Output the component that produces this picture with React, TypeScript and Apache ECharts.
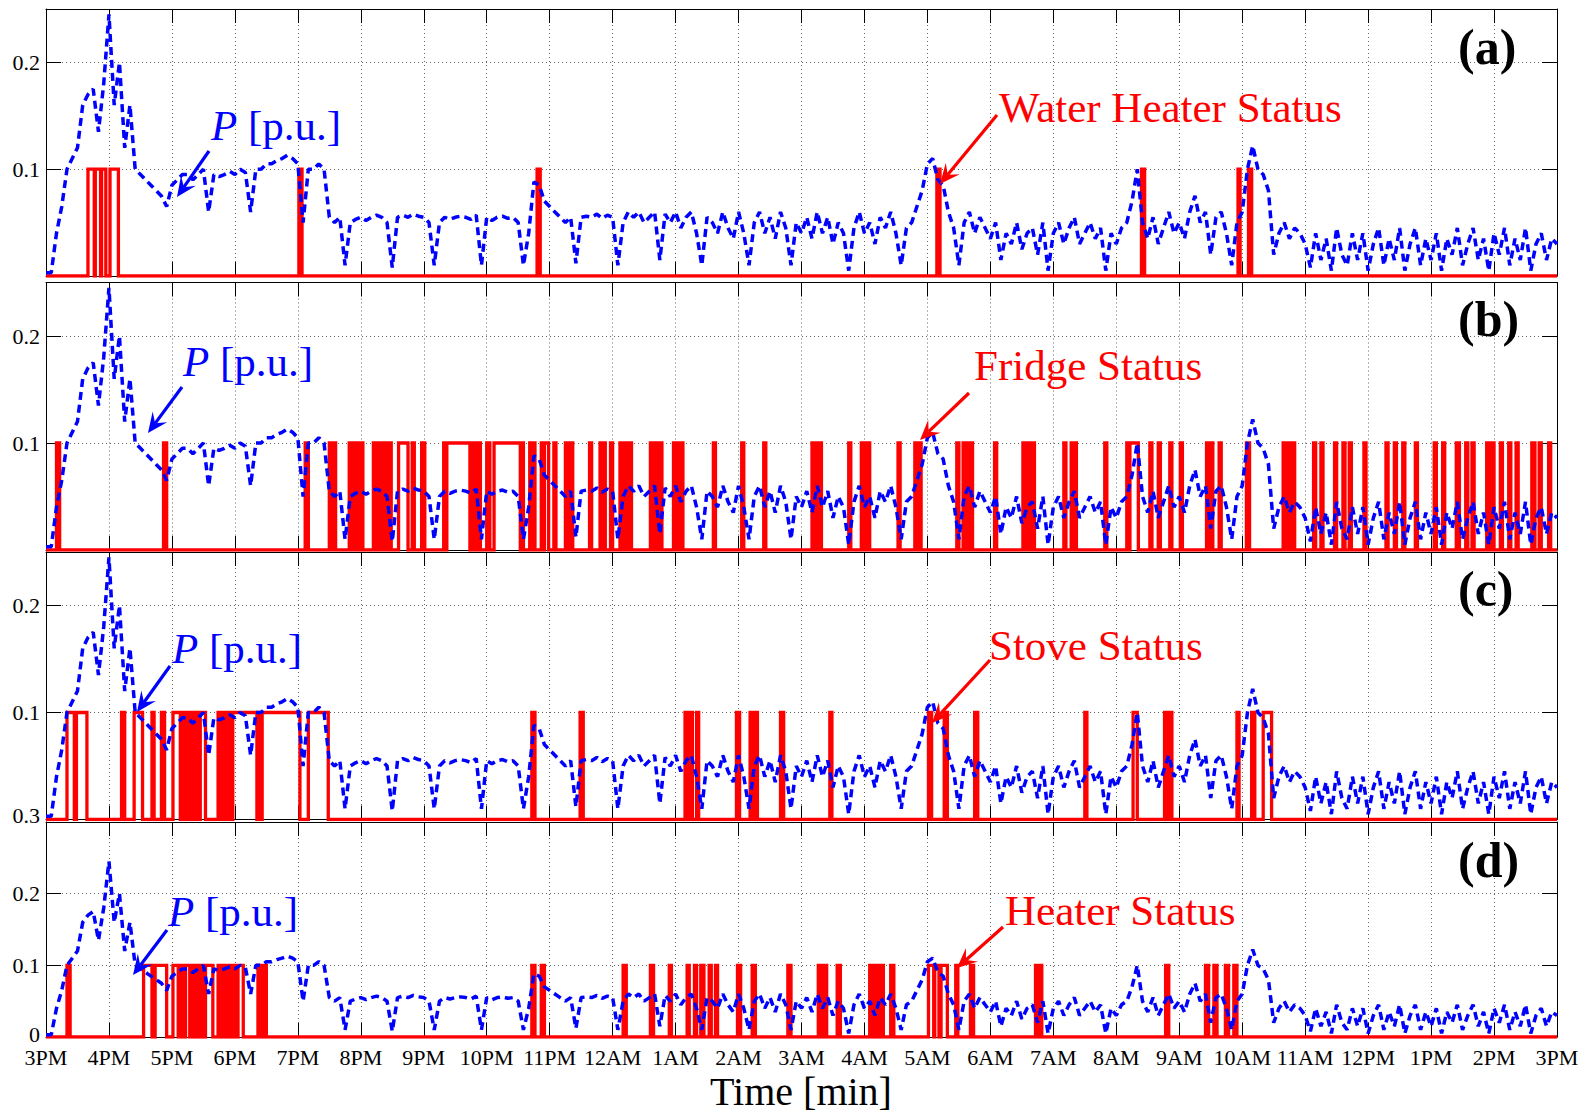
import React, { useEffect, useRef } from 'react';
import * as echarts from 'echarts';

// ---------------- data ----------------
const X_LABELS = ['3PM','4PM','5PM','6PM','7PM','8PM','9PM','10PM','11PM','12AM','1AM','2AM','3AM','4AM','5AM','6AM','7AM','8AM','9AM','10AM','11AM','12PM','1PM','2PM','3PM'];
const STEP_MIN = 5; // P sampled every 5 minutes, starting at 3PM (minute 0)
const P_VALUES = [
  0.003, 0.003, 0.04, 0.065, 0.1, 0.11, 0.12, 0.16, 0.17, 0.175, 0.135, 0.18,
  0.245, 0.16, 0.2, 0.12, 0.16, 0.1, 0.095, 0.09, 0.085, 0.08, 0.075, 0.065,
  0.085, 0.09, 0.095, 0.095, 0.09, 0.095, 0.1, 0.06, 0.095, 0.093, 0.095, 0.098,
  0.095, 0.1, 0.097, 0.06, 0.1, 0.1, 0.105, 0.105, 0.108, 0.11, 0.113, 0.11,
  0.105, 0.05, 0.1, 0.1, 0.105, 0.1, 0.055, 0.05, 0.055, 0.01, 0.05, 0.053,
  0.055, 0.052, 0.055, 0.057, 0.055, 0.05, 0.008, 0.055, 0.057, 0.055, 0.058, 0.056,
  0.055, 0.05, 0.01, 0.05, 0.055, 0.053, 0.055, 0.056, 0.055, 0.053, 0.057, 0.01,
  0.055, 0.052, 0.055, 0.056, 0.054, 0.055, 0.05, 0.01, 0.04, 0.088, 0.085, 0.07,
  0.065, 0.06, 0.055, 0.05, 0.055, 0.012, 0.055, 0.056, 0.055, 0.058, 0.054, 0.057,
  0.055, 0.01, 0.05, 0.06, 0.055, 0.06, 0.05, 0.055, 0.06, 0.015, 0.058, 0.05,
  0.06, 0.045, 0.055, 0.06, 0.04, 0.01, 0.055, 0.05, 0.04, 0.06, 0.045, 0.035,
  0.06, 0.04, 0.01, 0.05, 0.06, 0.04, 0.055, 0.035, 0.06, 0.045, 0.01, 0.05,
  0.04, 0.055, 0.035, 0.06, 0.04, 0.055, 0.03, 0.05, 0.04, 0.005, 0.045, 0.06,
  0.04, 0.05, 0.03, 0.055, 0.045, 0.06, 0.04, 0.01, 0.045, 0.05, 0.065, 0.08,
  0.105, 0.11, 0.09, 0.085, 0.06, 0.045, 0.01, 0.05, 0.06, 0.04, 0.055, 0.045,
  0.035, 0.05, 0.015, 0.04, 0.03, 0.05, 0.025, 0.04, 0.045, 0.02, 0.05, 0.005,
  0.04, 0.05, 0.03, 0.045, 0.055, 0.03, 0.04, 0.05, 0.035, 0.045, 0.005, 0.04,
  0.03, 0.045, 0.05, 0.07, 0.1, 0.05, 0.035, 0.055, 0.03, 0.045, 0.06, 0.04,
  0.05, 0.035, 0.06, 0.075, 0.05, 0.06, 0.02, 0.055, 0.06, 0.04, 0.01, 0.05,
  0.06, 0.1, 0.122, 0.1, 0.095, 0.08, 0.02, 0.04, 0.05, 0.035, 0.045, 0.04,
  0.03, 0.008, 0.04, 0.015, 0.035, 0.005, 0.045, 0.02, 0.01, 0.04, 0.015, 0.04,
  0.005, 0.03, 0.045, 0.01, 0.035, 0.015, 0.045, 0.005, 0.03, 0.045, 0.01, 0.035,
  0.015, 0.04, 0.005, 0.035, 0.02, 0.045, 0.01, 0.03, 0.045, 0.015, 0.035, 0.005,
  0.04, 0.02, 0.045, 0.01, 0.035, 0.015, 0.045, 0.005, 0.03, 0.04, 0.015, 0.035,
  0.03,
];
const STATUS_LEVEL = 0.1;
// on-intervals [start, end] in minutes after 3PM
const WATER_HEATER_ON = [[40,46],[47,52],[53,57],[61,69],[241,244],[468,471],[849,852],[1044,1047],[1136,1138],[1146,1149]];
const FRIDGE_ON = [[10,13],[112,115],[247,250],[270,272],[274,276],[289,291],[292,295],[296,298],[299,302],[312,315],[317,320],[321,324],[326,329],[336,345],[349,351],[358,361],[379,381],[382,404],[406,408],[411,414],[420,423],[427,452],[453,455],[461,463],[464,466],[472,474],[475,479],[484,486],[495,497],[499,502],[518,520],[528,530],[531,533],[538,540],[547,549],[552,554],[556,558],[576,578],[579,582],[584,587],[598,600],[602,604],[605,607],[636,638],[663,665],[684,686],[730,732],[733,736],[737,739],[765,767],[777,779],[780,782],[783,785],[812,814],[828,830],[832,834],[868,870],[874,876],[878,880],[881,883],[904,906],[931,933],[935,937],[940,942],[970,972],[977,979],[980,982],[1009,1011],[1030,1032],[1033,1041],[1052,1054],[1060,1062],[1071,1073],[1081,1083],[1106,1108],[1110,1112],[1118,1120],[1144,1147],[1179,1181],[1183,1185],[1188,1190],[1208,1210],[1215,1217],[1228,1230],[1236,1238],[1242,1244],[1256,1258],[1277,1279],[1285,1287],[1293,1295],[1305,1307],[1323,1325],[1331,1333],[1344,1347],[1353,1355],[1359,1361],[1373,1376],[1378,1380],[1386,1388],[1394,1396],[1401,1403],[1416,1419],[1423,1425],[1432,1434]];
const STOVE_ON = [[20,27],[29,39],[72,75],[84,92],[101,103],[110,113],[121,128],[130,133],[135,137],[139,141],[143,145],[147,152],[164,167],[169,172],[174,176],[178,201],[203,205],[206,242],[250,269],[463,466],[509,512],[609,611],[614,616],[620,622],[658,661],[671,673],[676,678],[700,703],[747,749],[841,844],[856,859],[885,888],[990,992],[1036,1040],[1066,1068],[1071,1073],[1135,1137],[1149,1152],[1160,1168]];
const HEATER_ON = [[20,23],[93,101],[104,115],[121,126],[128,131],[133,137],[139,142],[144,147],[148,150],[152,159],[164,167],[169,172],[174,177],[179,182],[183,188],[202,205],[207,210],[463,466],[472,475],[550,553],[576,579],[594,596],[611,613],[618,620],[624,627],[632,634],[638,640],[659,662],[673,676],[707,710],[736,739],[741,744],[754,757],[785,787],[789,791],[793,795],[796,798],[805,808],[841,846],[847,851],[853,859],[867,869],[881,884],[943,945],[947,949],[1067,1070],[1105,1108],[1113,1116],[1124,1127],[1132,1135]];
const STATUS_SERIES = [WATER_HEATER_ON, FRIDGE_ON, STOVE_ON, HEATER_ON];
const STATUS_NAMES = ['Water Heater Status', 'Fridge Status', 'Stove Status', 'Heater Status'];
const PANEL_LABELS = ['(a)', '(b)', '(c)', '(d)'];
const Y_MAX = [0.25, 0.25, 0.25, 0.3];
const Y_LABELS = [[0.1, 0.2], [0.1, 0.2], [0.1, 0.2], [0, 0.1, 0.2, 0.3]];
const X_MAX = 1440;

// ---------------- layout ----------------
const FONT = '"Liberation Serif", "Times New Roman", serif';
const LEFT = 46;
const PLOT_W = 1511;
const PANELS = [
  { top: 9, height: 267 },
  { top: 282.5, height: 267.5 },
  { top: 552, height: 267.5 },
  { top: 822, height: 215 },
];
const ANNOT = [
  { pX: 211, pY: 125, pArrow: [[209, 151], [177, 197]], sX: 999, sY: 107, sArrow: [[997, 115], [940, 184]], lY: 47 },
  { pX: 183, pY: 361, pArrow: [[182, 387], [148, 433]], sX: 974, sY: 365, sArrow: [[969, 393], [920, 440]], lY: 319 },
  { pX: 172, pY: 648, pArrow: [[170, 666], [137, 712]], sX: 989, sY: 645, sArrow: [[990, 660], [932, 723]], lY: 589 },
  { pX: 168, pY: 911, pArrow: [[167, 930], [133, 975]], sX: 1005, sY: 910, sArrow: [[1003, 927], [957, 968]], lY: 860 },
];

function stepData(intervals: number[][]) {
  const d: number[][] = [[0, 0]];
  for (const [a, b] of intervals) {
    d.push([a, 0], [a, STATUS_LEVEL], [b, STATUS_LEVEL], [b, 0]);
  }
  d.push([X_MAX, 0]);
  return d;
}

function arrow(S: number[], T: number[], color: string) {
  const dx = T[0] - S[0], dy = T[1] - S[1];
  const len = Math.hypot(dx, dy);
  const ux = dx / len, uy = dy / len;
  const nx = -uy, ny = ux;
  const L = 20, W = 9;
  const bx = T[0] - ux * L, by = T[1] - uy * L;
  const mx = T[0] - ux * L * 0.6, my = T[1] - uy * L * 0.6;
  return [
    { type: 'line', z: 100, shape: { x1: S[0], y1: S[1], x2: mx, y2: my }, style: { stroke: color, lineWidth: 3.2 } },
    { type: 'polygon', z: 100, shape: { points: [[T[0], T[1]], [bx + nx * W, by + ny * W], [mx, my], [bx - nx * W, by - ny * W]] }, style: { fill: color } },
  ];
}

export default function App() {
  const ref = useRef<HTMLDivElement>(null);
  useEffect(() => {
    if (!ref.current) return;
    const chart = echarts.init(ref.current, null, { renderer: 'svg' });
    const pData = P_VALUES.map((v, i) => [i * STEP_MIN, v]);

    const grid: any[] = [];
    const xAxis: any[] = [];
    const yAxis: any[] = [];
    const series: any[] = [];
    const graphic: any[] = [];

    PANELS.forEach((p, i) => {
      grid.push({ left: LEFT, top: p.top, width: PLOT_W, height: p.height, containLabel: false, outerBoundsMode: 'none' });
      const tick = { show: true, inside: true, length: 14, lineStyle: { color: '#000', width: 1 } };
      const line = { show: true, onZero: false, lineStyle: { color: '#000', width: 1 } };
      xAxis.push({
        type: 'value', gridIndex: i, min: 0, max: X_MAX, interval: 60, position: 'bottom',
        axisLine: line, axisTick: tick,
        axisLabel: {
          show: i === 3, margin: 9, color: '#000', fontFamily: FONT, fontSize: 22,
          formatter: (v: number) => X_LABELS[Math.round(v / 60)] ?? '',
        },
        splitLine: { show: true, lineStyle: { color: '#666', width: 1, type: [1, 3] } },
      });
      xAxis.push({
        type: 'value', gridIndex: i, min: 0, max: X_MAX, interval: 60, position: 'top',
        axisLine: line, axisTick: tick, axisLabel: { show: false }, splitLine: { show: false },
      });
      const labels = Y_LABELS[i];
      yAxis.push({
        type: 'value', gridIndex: i, min: 0, max: Y_MAX[i], interval: 0.1, position: 'left',
        axisLine: line, axisTick: { ...tick, length: 15 },
        axisLabel: {
          show: true, margin: 6, color: '#000', fontFamily: FONT, fontSize: 22,
          formatter: (v: number) => {
            const r = Math.round(v * 10) / 10;
            if (Math.abs(v - r) > 1e-6 || !labels.includes(r)) return '';
            const s = r === 0 ? '0' : r.toFixed(1);
            if (i === 3 && r === 0.3) return '{t|' + s + '}';
            if (i === 3 && r === 0) return '{b|' + s + '}';
            return s;
          },
          rich: {
            t: { fontFamily: FONT, fontSize: 22, color: '#000', padding: [0, 0, 14, 0] },
            b: { fontFamily: FONT, fontSize: 22, color: '#000', padding: [0, 0, 6, 0] },
          },
        },
        splitLine: { show: true, lineStyle: { color: '#666', width: 1, type: [1, 3] } },
      });
      yAxis.push({
        type: 'value', gridIndex: i, min: 0, max: Y_MAX[i], interval: 0.1, position: 'right',
        axisLine: line, axisTick: { ...tick, length: 15 }, axisLabel: { show: false }, splitLine: { show: false },
      });
      series.push({
        type: 'line', name: STATUS_NAMES[i], xAxisIndex: 2 * i, yAxisIndex: 2 * i,
        data: stepData(STATUS_SERIES[i]), symbol: 'none', showSymbol: false, z: 2,
        lineStyle: { color: '#ff0000', width: 3.3, join: 'miter' },
      });
      series.push({
        type: 'line', name: 'P', xAxisIndex: 2 * i, yAxisIndex: 2 * i,
        data: pData, symbol: 'none', showSymbol: false, z: 3,
        lineStyle: { color: '#0000ff', width: 3.5, type: [8, 5] },
      });

      const a = ANNOT[i];
      graphic.push({
        type: 'text', z: 100, x: a.pX, y: a.pY,
        style: {
          text: '{i|P} [p.u.]', fill: '#0000ff', fontFamily: FONT, fontSize: 43, verticalAlign: 'middle', align: 'left',
          rich: { i: { fontStyle: 'italic', fontFamily: FONT, fontSize: 43, fill: '#0000ff' } },
        },
      });
      graphic.push(...arrow(a.pArrow[0], a.pArrow[1], '#0000ff'));
      graphic.push({
        type: 'text', z: 100, x: a.sX, y: a.sY,
        style: { text: STATUS_NAMES[i], fill: '#ff0000', fontFamily: FONT, fontSize: 43, verticalAlign: 'middle', align: 'left' },
      });
      graphic.push(...arrow(a.sArrow[0], a.sArrow[1], '#ff0000'));
      graphic.push({
        type: 'text', z: 100, x: 1458, y: a.lY,
        style: { text: PANEL_LABELS[i], fill: '#000', fontFamily: FONT, fontSize: 50, fontWeight: 'bold', verticalAlign: 'middle', align: 'left' },
      });
    });

    graphic.push({
      type: 'text', z: 100, x: 801, y: 1091,
      style: { text: 'Time [min]', fill: '#000', fontFamily: FONT, fontSize: 40, verticalAlign: 'middle', align: 'center' },
    });

    chart.setOption({
      animation: false,
      backgroundColor: '#ffffff',
      textStyle: { fontFamily: FONT },
      grid, xAxis, yAxis, series, graphic,
    });
    return () => chart.dispose();
  }, []);
  return <div ref={ref} style={{ position: 'absolute', left: 0, top: 0, width: 1591, height: 1112 }} />;
}
